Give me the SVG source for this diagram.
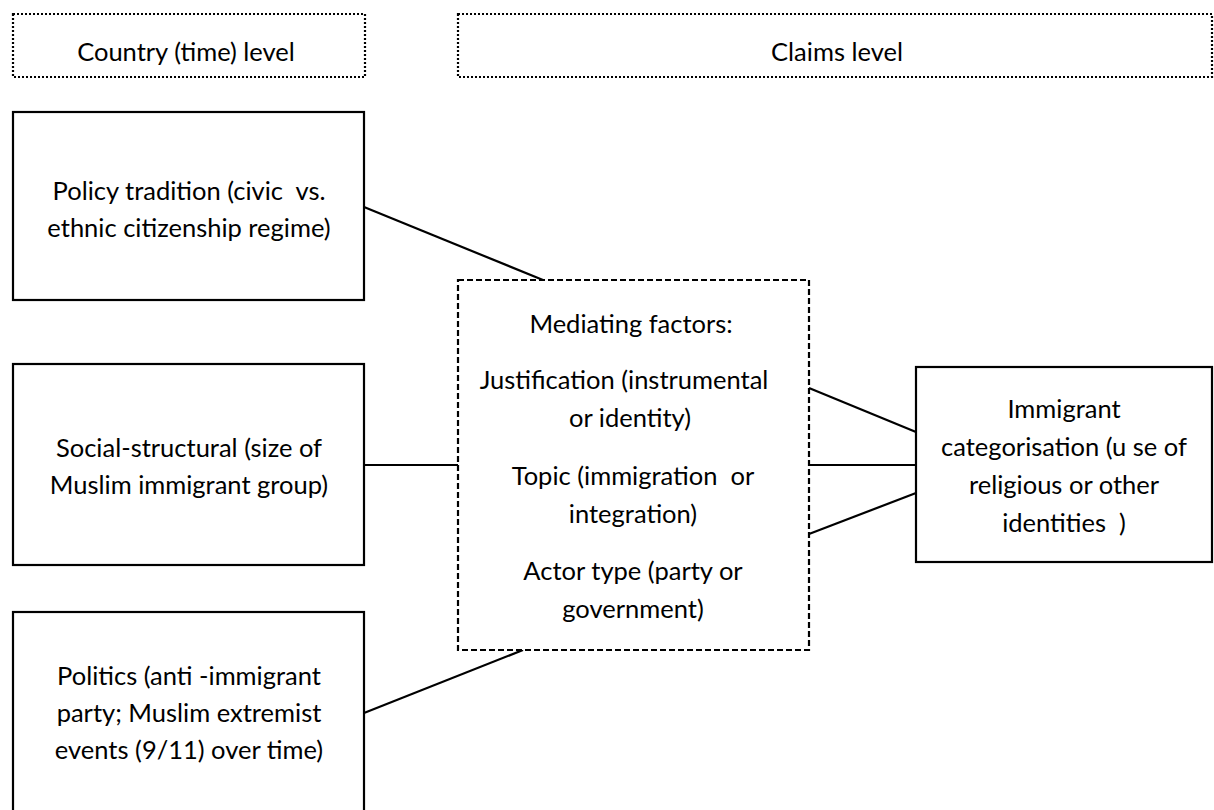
<svg xmlns="http://www.w3.org/2000/svg" width="1214" height="810" viewBox="0 0 1214 810">
<style>
.box{fill:#fff;stroke:#000;stroke-width:2.2}
.dot{fill:none;stroke:#000;stroke-width:2.2;stroke-dasharray:2 2}
.dash{fill:#fff;stroke:#000;stroke-width:2.2;stroke-dasharray:6 3}
.t{font-family:Lato,"Liberation Sans",sans-serif;font-size:25.5px;fill:#000;text-anchor:middle;white-space:pre}
.c{stroke:#000;stroke-width:2.2;fill:none}
</style>
<rect width="1214" height="810" fill="#fff"/>
<g id="connectors">
<line class="c" x1="364" y1="207" x2="543" y2="280"/>
<line class="c" x1="364" y1="465" x2="458" y2="465"/>
<line class="c" x1="364" y1="713" x2="523" y2="650"/>
<line class="c" x1="809" y1="388" x2="916" y2="432"/>
<line class="c" x1="809" y1="465" x2="916" y2="465"/>
<line class="c" x1="809" y1="534" x2="916" y2="493"/>
</g>
<g id="hdr-country">
<rect class="dot" x="13" y="14" width="352" height="63"/>
<text class="t" x="186" y="61">Country (time) level</text>
</g>
<g id="hdr-claims">
<rect class="dot" x="458" y="14" width="754" height="63"/>
<text class="t" x="837" y="61">Claims level</text>
</g>
<g id="policy">
<rect class="box" x="13" y="112" width="351" height="188"/>
<text class="t" x="189" y="200" xml:space="preserve">Policy tradition (civic  vs.</text>
<text class="t" x="189" y="237">ethnic citizenship regime)</text>
</g>
<g id="social">
<rect class="box" x="13" y="364" width="351" height="201"/>
<text class="t" x="189" y="457">Social-structural (size of</text>
<text class="t" x="189" y="494">Muslim immigrant group)</text>
</g>
<g id="politics">
<rect class="box" x="13" y="612" width="351" height="210"/>
<text class="t" x="189" y="685">Politics (anti -immigrant</text>
<text class="t" x="189" y="722">party; Muslim extremist</text>
<text class="t" x="189" y="759">events (9/11) over time)</text>
</g>
<g id="mediating">
<rect class="dash" x="458" y="280" width="351" height="370"/>
<text class="t" x="631" y="333">Mediating factors:</text>
<text class="t" x="624" y="389">Justification (instrumental</text>
<text class="t" x="630" y="427">or identity)</text>
<text class="t" x="633" y="485" xml:space="preserve">Topic (immigration  or</text>
<text class="t" x="633" y="523">integration)</text>
<text class="t" x="633" y="580">Actor type (party or</text>
<text class="t" x="633" y="618">government)</text>
</g>
<g id="categorisation">
<rect class="box" x="916" y="367" width="296" height="195"/>
<text class="t" x="1064" y="418">Immigrant</text>
<text class="t" x="1064" y="456">categorisation (u se of</text>
<text class="t" x="1064" y="494">religious or other</text>
<text class="t" x="1064" y="532" xml:space="preserve">identities  )</text>
</g>
</svg>
